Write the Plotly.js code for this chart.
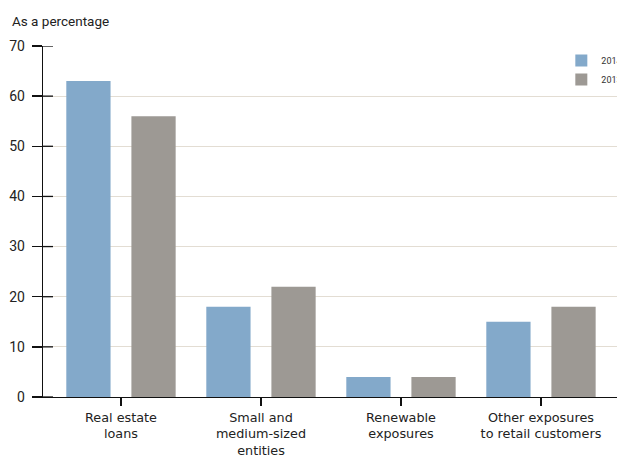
<!DOCTYPE html>
<html><head><meta charset="utf-8">
<script src="https://cdn.plot.ly/plotly-3.0.1.min.js"></script>
<style>html,body{margin:0;padding:0;background:#fff}#chart{width:617px;height:455px}</style>
</head><body><div id="chart"></div>
<script>
const categories = ["Real estate<br>loans", "Small and<br>medium-sized<br>entities", "Renewable<br>exposures", "Other exposures<br>to retail customers"];
const series2014 = [63, 18, 4, 15];
const series2013 = [56, 22, 4, 18];
const seriesNames = ["2014", "2013"];
const yTicks = [0, 10, 20, 30, 40, 50, 60, 70];

const FONT = "Roboto, sans-serif";
const CATFONT = "DejaVu Sans, sans-serif";
const data = [
  {type: "bar", x: categories, y: series2014, name: seriesNames[0], marker: {color: "#83a9ca"}, hoverinfo: "skip"},
  {type: "bar", x: categories, y: series2013, name: seriesNames[1], marker: {color: "#9d9994"}, hoverinfo: "skip"}
];
// inner half of the crossing y ticks
const tickShapes = yTicks.map(v => ({type: "line", xref: "paper", yref: "y", x0: 0, x1: 10/574, y0: v, y1: v,
  line: {color: "#111", width: 1.3}}));
const layout = {
  width: 617, height: 455,
  margin: {l: 43, r: 0, t: 46, b: 58, pad: 0, autoexpand: false},
  paper_bgcolor: "#fff", plot_bgcolor: "#fff",
  font: {family: FONT, size: 13, color: "#222"},
  barmode: "group", bargap: 0.07, bargroupgap: 0.32,
  showlegend: true,
  legend: {x: 0.903, xanchor: "left", y: 1.0, yanchor: "top", font: {size: 9, color: "#333"},
           bgcolor: "rgba(0,0,0,0)", itemwidth: 30, tracegroupgap: 0},
  title: {text: "As a percentage", xref: "container", yref: "container", x: 12/617, xanchor: "left",
          y: 1 - 21/455, yanchor: "middle", font: {family: FONT, size: 13.5, color: "#222"}},
  xaxis: {range: [-0.557, 3.543], showline: true, linecolor: "#111", linewidth: 1.3,
          ticks: "outside", ticklen: 8, tickcolor: "#111", tickwidth: 1.3,
          tickfont: {family: CATFONT, size: 12.8, color: "#222"}, showgrid: false, zeroline: false, fixedrange: true},
  yaxis: {range: [0, 70], tickvals: yTicks, showline: true, linecolor: "#111", linewidth: 1.3,
          ticks: "outside", ticklen: 10, tickcolor: "#111", tickwidth: 1.3, ticklabelstandoff: 4,
          tickfont: {size: 14, color: "#222"}, showgrid: true, gridcolor: "#e3ddd3", gridwidth: 1,
          zeroline: false, fixedrange: true},
  shapes: tickShapes.concat([
    {type: "line", xref: "paper", yref: "y", x0: -10/574, x1: 0, y0: 0, y1: 0, line: {color: "#111", width: 1.3}}
  ])
};
Plotly.newPlot("chart", data, layout, {staticPlot: true, displayModeBar: false});
</script></body></html>
